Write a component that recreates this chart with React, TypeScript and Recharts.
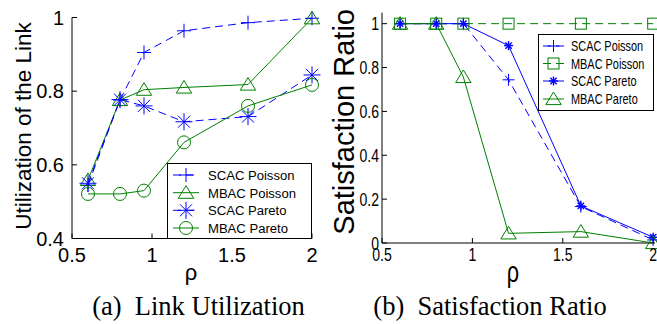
import React from "react";
import { LineChart, Line, XAxis, YAxis, Legend } from "recharts";

// rho values shared by both panels
const rho = [0.6, 0.8, 0.95, 1.2, 1.6, 2];
const xTicks = [0.5, 1, 1.5, 2];

// (a) link utilization
const utilScacPoisson = [0.545, 0.776, 0.905, 0.964, 0.986, 0.998];
const utilMbacPoisson = [0.559, 0.776, 0.804, 0.81, 0.818, 0.998];
const utilScacPareto = [0.55, 0.777, 0.76, 0.717, 0.731, 0.844];
const utilMbacPareto = [0.521, 0.521, 0.53, 0.661, 0.76, 0.817];
const utilTicks = [0.4, 0.6, 0.8, 1];

// (b) satisfaction ratio
const satScacPoisson = [1, 1, 1, 0.744, 0.166, 0.014];
const satMbacPoisson = [1, 1, 1, 1, 1, 1];
const satScacPareto = [1, 1, 1, 0.9, 0.169, 0.026];
const satMbacPareto = [1, 1, 0.757, 0.044, 0.052, 0];
const satTicks = [0, 0.2, 0.4, 0.6, 0.8, 1];

const names = ["SCAC Poisson", "MBAC Poisson", "SCAC Pareto", "MBAC Pareto"];

const BLUE = "#0000ff";
const GREEN = "#008000";
const FONT = "'Liberation Sans', Arial, sans-serif";

const utilData = rho.map((r, i) => ({
  rho: r,
  s0: utilScacPoisson[i],
  s1: utilMbacPoisson[i],
  s2: utilScacPareto[i],
  s3: utilMbacPareto[i],
}));

const satData = rho.map((r, i) => ({
  rho: r,
  s0: satScacPoisson[i],
  s1: satMbacPoisson[i],
  s2: satScacPareto[i],
  s3: satMbacPareto[i],
}));

type Shape = "plus" | "star" | "triangle" | "circle" | "square";
type Series = { key: string; color: string; dash?: string; shape: Shape; r: number; sw?: number };

const utilSeries: Series[] = [
  { key: "s0", color: BLUE, dash: "8 5", shape: "plus", r: 7 },
  { key: "s1", color: GREEN, shape: "triangle", r: 7 },
  { key: "s2", color: BLUE, dash: "8 5", shape: "star", r: 8.5 },
  { key: "s3", color: GREEN, shape: "circle", r: 6.5 },
];

const satSeries: Series[] = [
  { key: "s0", color: BLUE, dash: "8 5", shape: "plus", r: 6 },
  { key: "s1", color: GREEN, dash: "8 5", shape: "square", r: 5.5 },
  { key: "s2", color: BLUE, shape: "star", r: 4.5, sw: 1.4 },
  { key: "s3", color: GREEN, shape: "triangle", r: 7 },
];

function Marker({ shape, cx, cy, r, color, sw = 1 }: any) {
  const common = { stroke: color, strokeWidth: sw, fill: "none" };
  if (shape === "plus") {
    return (
      <g {...common}>
        <line x1={cx - r} y1={cy} x2={cx + r} y2={cy} />
        <line x1={cx} y1={cy - r} x2={cx} y2={cy + r} />
      </g>
    );
  }
  if (shape === "star") {
    const d = r * 0.707;
    return (
      <g {...common}>
        <line x1={cx - r} y1={cy} x2={cx + r} y2={cy} />
        <line x1={cx} y1={cy - r} x2={cx} y2={cy + r} />
        <line x1={cx - d} y1={cy - d} x2={cx + d} y2={cy + d} />
        <line x1={cx - d} y1={cy + d} x2={cx + d} y2={cy - d} />
      </g>
    );
  }
  if (shape === "triangle") {
    const pts = `${cx},${cy - r} ${cx - r * 1.1},${cy + r * 0.8} ${cx + r * 1.1},${cy + r * 0.8}`;
    return <polygon points={pts} {...common} />;
  }
  if (shape === "square") {
    return <rect x={cx - r} y={cy - r} width={2 * r} height={2 * r} {...common} />;
  }
  return <circle cx={cx} cy={cy} r={r} {...common} />;
}

function LegendBox({ series, w, h, lineX0, lineX1, textX, rows, fontSize, squeeze }: any) {
  return (
    <svg width={w} height={h} style={{ display: "block" }}>
      <rect x={0.5} y={0.5} width={w - 1} height={h - 1} fill="#fff" stroke="#000" />
      {series.map((s: Series, i: number) => {
        const y = rows[i];
        const mx = (lineX0 + lineX1) / 2;
        return (
          <g key={s.key}>
            <line x1={lineX0} y1={y} x2={lineX1} y2={y} stroke={s.color} strokeDasharray={s.dash} />
            <Marker shape={s.shape} cx={mx} cy={y} r={s.r} color={s.color} sw={s.sw} />
            <text
              transform={`translate(${textX},${y}) scale(${squeeze},1)`}
              dy="0.36em"
              fontSize={fontSize}
              fill="#000"
              fontFamily={FONT}
            >
              {names[i]}
            </text>
          </g>
        );
      })}
    </svg>
  );
}

const SqX = ({ x, y, payload }: any) => (
  <text transform={`translate(${x},${y}) scale(0.74,1)`} textAnchor="middle" dy="0.71em" fontSize={19} fill="#000">
    {String(payload.value)}
  </text>
);

const SqY = ({ x, y, payload }: any) => (
  <text transform={`translate(${x},${y}) scale(0.74,1)`} textAnchor="end" dy="0.355em" fontSize={19} fill="#000">
    {String(payload.value)}
  </text>
);

const axisStroke = { stroke: "#000" };

function renderLines(series: Series[]) {
  return series.map((s) => (
    <Line
      key={s.key}
      type="linear"
      dataKey={s.key}
      stroke={s.color}
      strokeWidth={1}
      strokeDasharray={s.dash}
      isAnimationActive={false}
      dot={(p: any) => (
        <Marker key={`${s.key}-${p.index}`} shape={s.shape} cx={p.cx} cy={p.cy} r={s.r} color={s.color} sw={s.sw} />
      )}
      activeDot={false}
    />
  ));
}

function UtilChart() {
  return (
    <LineChart width={330} height={324} data={utilData} margin={{ top: 17.5, right: 18, bottom: 55.5, left: 0 }}>
      <XAxis
        dataKey="rho"
        type="number"
        domain={[0.5, 2]}
        ticks={xTicks}
        interval={0}
        height={30}
        tickSize={-5}
        tickMargin={14.5}
        axisLine={axisStroke}
        tickLine={axisStroke}
        tick={{ fill: "#000", fontSize: 20 }}
        label={(p: any) => {
          const vb = p.viewBox;
          return (
            <text x={vb.x + vb.width / 2 - 1} y={vb.y + 41} textAnchor="middle" fontSize={22} fill="#000">
              ρ
            </text>
          );
        }}
      />
      <XAxis xAxisId="top" orientation="top" type="number" domain={[0.5, 2]} ticks={xTicks} height={0} tick={false} tickSize={-5} axisLine={axisStroke} tickLine={axisStroke} />
      <YAxis
        type="number"
        domain={[0.4, 1]}
        ticks={utilTicks}
        interval={0}
        width={72}
        tickSize={-5}
        tickMargin={13}
        axisLine={axisStroke}
        tickLine={axisStroke}
        tick={{ fill: "#000", fontSize: 20 }}
        label={(p: any) => {
          const vb = p.viewBox;
          const x = vb.x + 30.5;
          const y = vb.y + vb.height / 2 - 2;
          return (
            <text x={x} y={y} transform={`rotate(-90, ${x}, ${y})`} textAnchor="middle" fontSize={22.5} fill="#000">
              Utilization of the Link
            </text>
          );
        }}
      />
      <YAxis yAxisId="right" orientation="right" type="number" domain={[0.4, 1]} ticks={utilTicks} width={0} tick={false} tickSize={-5} axisLine={axisStroke} tickLine={axisStroke} />
      {renderLines(utilSeries)}
      <Legend
        layout="horizontal"
        verticalAlign="middle"
        align="center"
        wrapperStyle={{ left: 167, top: 163, width: 145, height: 76 }}
        content={() => (
          <LegendBox series={utilSeries} w={145} h={76} lineX0={6} lineX1={32} textX={41} rows={[12, 29.7, 47.3, 65]} fontSize={13.5} squeeze={0.97} />
        )}
      />
    </LineChart>
  );
}

function SatChart() {
  return (
    <LineChart width={330} height={324} data={satData} margin={{ top: 12.7, right: 2, bottom: 51, left: 0 }}>
      <XAxis
        dataKey="rho"
        type="number"
        domain={[0.5, 2.01]}
        ticks={xTicks}
        interval={0}
        height={30}
        tickSize={-5}
        tickMargin={10}
        axisLine={axisStroke}
        tickLine={axisStroke}
        tick={<SqX />}
        label={(p: any) => {
          const vb = p.viewBox;
          const x = vb.x + vb.width / 2 - 5.5;
          const y = vb.y + 39;
          return (
            <text transform={`translate(${x},${y}) scale(0.75,1)`} textAnchor="middle" fontSize={29} fill="#000">
              ρ
            </text>
          );
        }}
      />
      <XAxis xAxisId="top" orientation="top" type="number" domain={[0.5, 2.01]} ticks={xTicks} height={0} tick={false} tickSize={-5} axisLine={axisStroke} tickLine={axisStroke} />
      <YAxis
        type="number"
        domain={[0, 1.05]}
        ticks={satTicks}
        interval={0}
        width={55}
        tickSize={-5}
        tickMargin={8}
        axisLine={axisStroke}
        tickLine={axisStroke}
        tick={<SqY />}
        label={(p: any) => {
          const vb = p.viewBox;
          const x = vb.x + 27;
          const y = vb.y + vb.height / 2 - 6;
          return (
            <text x={x} y={y} transform={`rotate(-90, ${x}, ${y})`} textAnchor="middle" fontSize={29} fill="#000">
              Satisfaction Ratio
            </text>
          );
        }}
      />
      <YAxis yAxisId="right" orientation="right" type="number" domain={[0, 1.05]} ticks={satTicks} width={0} tick={false} tickSize={-5} axisLine={axisStroke} tickLine={axisStroke} />
      {renderLines(satSeries)}
      <Legend
        layout="horizontal"
        verticalAlign="middle"
        align="center"
        wrapperStyle={{ left: 211, top: 34, width: 116, height: 77 }}
        content={() => (
          <LegendBox series={satSeries} w={116} h={77} lineX0={5} lineX1={26} textX={33} rows={[12, 29.5, 47, 65]} fontSize={14} squeeze={0.78} />
        )}
      />
    </LineChart>
  );
}

export default function App() {
  return (
    <div
      style={{
        position: "absolute",
        left: 0,
        top: 0,
        width: 657,
        height: 324,
        overflow: "hidden",
        background: "#fff",
        fontFamily: FONT,
      }}
    >
      <div style={{ position: "absolute", left: 0, top: 0 }}>
        <UtilChart />
      </div>
      <div style={{ position: "absolute", left: 327, top: 0 }}>
        <SatChart />
      </div>
      <svg width={657} height={324} style={{ position: "absolute", left: 0, top: 0, pointerEvents: "none" }}>
        <text x={198.5} y={315} textAnchor="middle" fontSize={26.5} fontFamily="'Liberation Serif', 'Times New Roman', serif" style={{ whiteSpace: "pre" }}>
          (a)  Link Utilization
        </text>
        <text x={490} y={315} textAnchor="middle" fontSize={26.5} fontFamily="'Liberation Serif', 'Times New Roman', serif" style={{ whiteSpace: "pre" }}>
          (b)  Satisfaction Ratio
        </text>
      </svg>
    </div>
  );
}
